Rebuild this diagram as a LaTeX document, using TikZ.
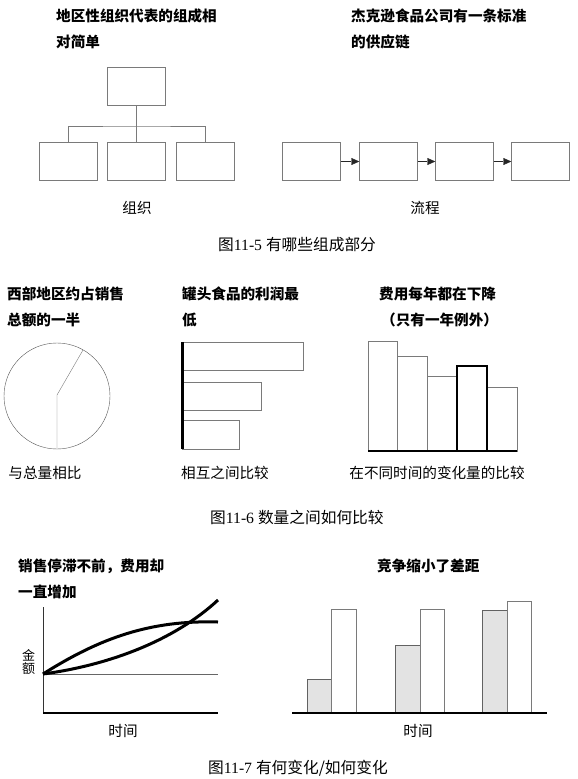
\documentclass[tikz,border=0pt]{standalone}
\usepackage{fontspec}
\setmainfont{Liberation Serif}
\newfontfamily\cjk{Noto Sans CJK SC}
\usetikzlibrary{arrows.meta}
\definecolor{linegray}{HTML}{7A7A7A}
\definecolor{barfill}{HTML}{E3E3E3}
\begin{document}
\begin{tikzpicture}[x=1pt,y=-1pt,
  box/.style={draw=linegray,minimum width=58pt,minimum height=38pt,inner sep=0pt},
  title/.style={anchor=north west,align=left,inner sep=0pt,font=\cjk\bfseries\fontsize{14.6}{26}\selectfont},
  label/.style={inner sep=0pt,font=\cjk\fontsize{14.6}{18}\selectfont},
  capt/.style={anchor=west,inner sep=0pt,font=\fontsize{15.7}{18}\selectfont},
  bar/.style={draw=linegray,fill=white},
  gbar/.style={draw=linegray!80!black,fill=barfill},
  axis/.style={line width=2.2pt},
  curve/.style={line width=3pt},
  flow/.style={draw=black!85,-{Triangle[length=8pt,width=7pt]}}]
\useasboundingbox (0,0) rectangle (578,779);

% figure 11-5
\node[title] (t1) at (56,9) {地区性组织代表的组成相\\对简单};
\node[box] (top) at (136.5,86.5) {};
\node[box] (o1) at (68,161.5) {};
\node[box] (o2) at (136.5,161.5) {};
\node[box] (o3) at (205,161.5) {};
\coordinate (bus) at (136.5,126);
\draw[linegray] (top.south) -- (bus) -- (o2.north);
\draw[linegray] (o1.north) |- (bus) -| (o3.north);
\node[label] (l1) at (137,208) {组织};

\node[title] (t2) at (351,9) {杰克逊食品公司有一条标准\\的供应链};
\node[box] (p1) at (311.5,161.5) {};
\node[box] (p2) at (388.5,161.5) {};
\node[box] (p3) at (464.5,161.5) {};
\node[box] (p4) at (540.5,161.5) {};
\draw[flow] (p1) -- (p2);
\draw[flow] (p2) -- (p3);
\draw[flow] (p3) -- (p4);
\node[label] (l2) at (425,208) {流程};

\node[capt] (c1) at (218,245) {{\cjk 图}11-5 {\cjk 有哪些组成部分}};

% figure 11-6
\node[title] (t3) at (7,287) {西部地区约占销售\\总额的一半};
\draw[linegray!70!black] (57,396) circle[radius=53];
\draw[linegray] (57,449) -- (57,395) -- (83,350);
\node[label] (l3) at (45,473) {与总量相比};

\node[title] (t4) at (182,287) {罐头食品的利润最\\低};
\draw[bar] (182.5,342) rectangle (303,370);
\draw[bar] (182.5,382) rectangle (261,410);
\draw[bar] (182.5,420) rectangle (239,449);
\draw[axis] (182.5,342) -- (182.5,449);
\node[label] (l4) at (225,473) {相互之间比较};

\node[title] (t5) at (379,287) {费用每年都在下降};
\node[title] (t6) at (381,313) {（只有一年例外）};
\draw[bar] (368,341) rectangle (397,451);
\draw[bar] (397,356) rectangle (427,451);
\draw[bar] (427,376) rectangle (457,451);
\draw[bar] (487,387) rectangle (517,451);
\draw[axis] (457,451) |- (487,366) -- (487,451);
\draw[axis] (368,451) -- (517,451);
\node[label] (l5) at (437,473) {在不同时间的变化量的比较};

\node[capt] (c2) at (210,518) {{\cjk 图}11-6 {\cjk 数量之间如何比较}};

% figure 11-7
\node[title] (t7) at (18,559) {销售停滞不前，费用却\\一直增加};
\draw[black!80] (43,607) -- (43,713);
\draw[black!60] (43,674) -- (218,674);
\draw[axis] (43,713) -- (218,713);
\draw[curve] (43,674) .. controls (100,638) and (150,620) .. (218,622);
\draw[curve] (43,674) .. controls (110,665) and (175,640) .. (218,600);
\node[label,align=center,font=\cjk\fontsize{13}{13.5}\selectfont] (amt) at (28.5,662) {金\\额};
\node[label] (l6) at (123,731) {时间};

\node[title] (t8) at (377,559) {竞争缩小了差距};
\draw[gbar] (307,679) rectangle (331,713);
\draw[bar] (331,609) rectangle (356,713);
\draw[gbar] (395,645) rectangle (420,713);
\draw[bar] (420,609) rectangle (444,713);
\draw[gbar] (482,610) rectangle (507,713);
\draw[bar] (507,601) rectangle (531,713);
\draw[axis] (292,713) -- (547,713);
\node[label] (l7) at (418,731) {时间};

\node[capt] (c3) at (208,768) {{\cjk 图}11-7 {\cjk 有何变化/如何变化}};
\end{tikzpicture}
\end{document}
